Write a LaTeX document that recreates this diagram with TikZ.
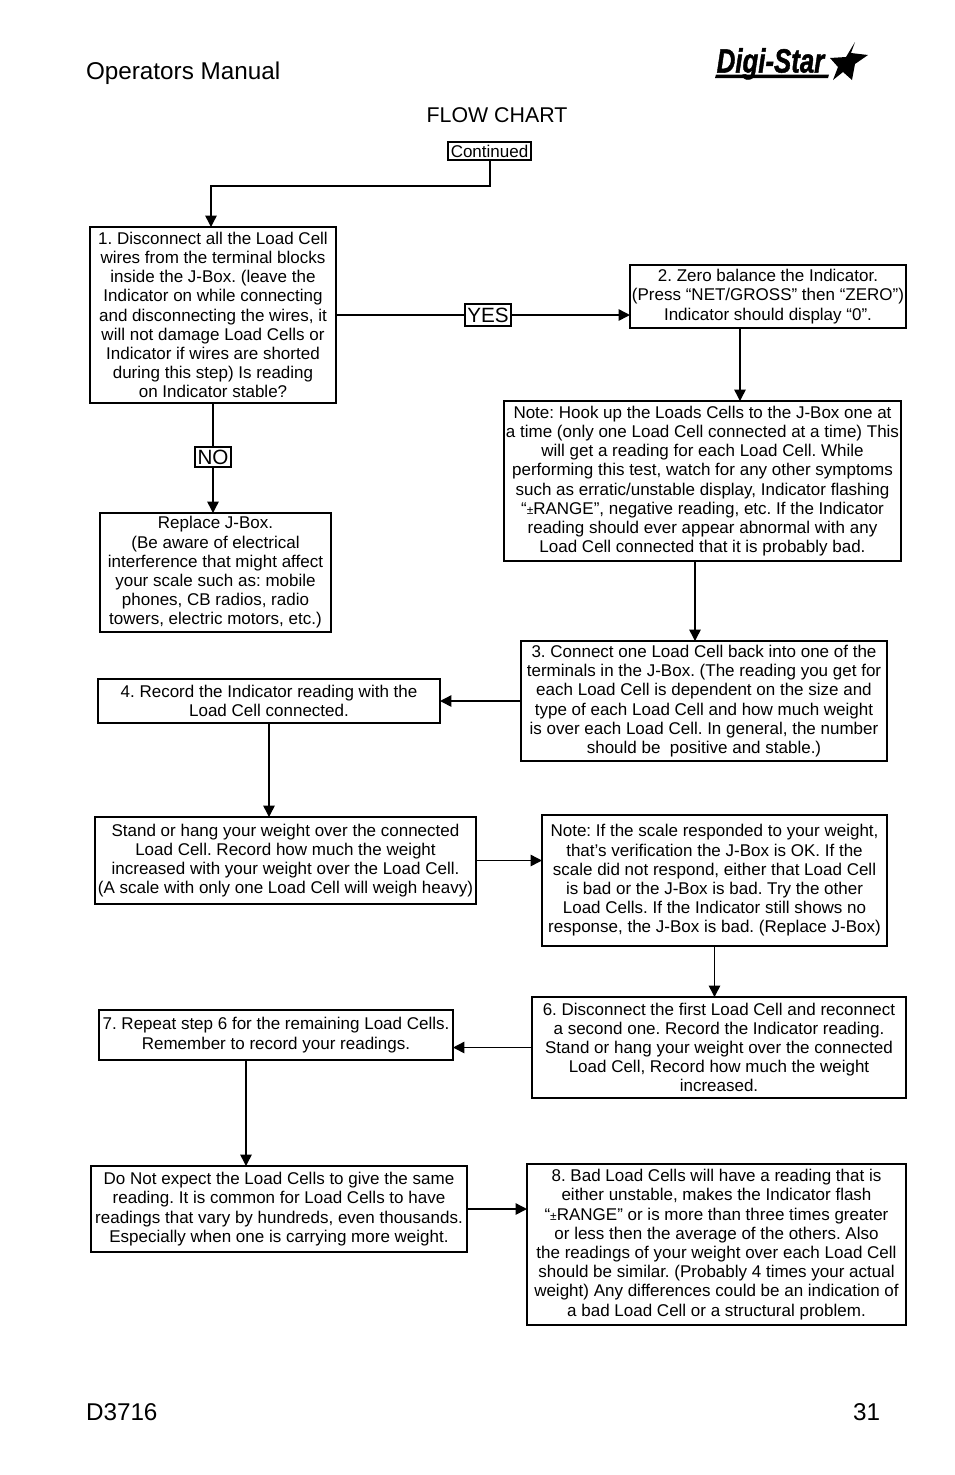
\documentclass[tikz,border=0pt]{standalone}
\usepackage{fontspec}
\setmainfont{Liberation Sans}
\newfontfamily\logofont[BoldItalicFeatures={FakeBold=1.5}]{Liberation Sans}
\frenchspacing
\usetikzlibrary{arrows.meta}

\tikzset{every picture/.style={line width=1.1pt}}
\tikzset{flowbox/.style={draw,rectangle,inner sep=0pt,outer sep=0pt,align=center,font=\fontsize{12.75}{14.4}\selectfont}}
\tikzset{tagbox/.style={draw,fill=white,rectangle,inner sep=0pt,outer sep=0pt,font=\fontsize{15.5}{18}\selectfont}}
\tikzset{flowarrow/.style={-{Triangle[length=8.5pt,width=8.5pt]}}}
\tikzset{pagetext/.style={inner sep=0pt,outer sep=0pt,anchor=base west,font=\fontsize{18.2}{20}\selectfont}}

\begin{document}
\begin{tikzpicture}[x=0.75pt,y=0.75pt,yscale=-1,xscale=1]
\useasboundingbox (0,0) rectangle (954,1475);

% Text Node
\node [pagetext] (manual) at (86,79) {Operators Manual};
% Text Node
\node [pagetext] (code) at (86,1420) {D3716};
% Text Node
\node [pagetext,anchor=base east] (page) at (880,1420) {31};
% Text Node
\node [pagetext,anchor=base,font=\fontsize{16}{18}\selectfont] (title) at (497,122) {FLOW CHART};

% Logo
\node [inner sep=0pt,anchor=base west,font=\fontsize{22.5}{26}\selectfont\logofont\bfseries\itshape] (logo) at (716,72.5) {\scalebox{0.86}[1.12]{Digi-Star}};
\fill (716,74.5) -- (829,74.5) -- (828,78) -- (715,78) -- cycle;
%Shape: Star
\fill (855,42) -- (851,53) -- (868,55) -- (855,64) -- (852,80) -- (843,72) -- (833,80) -- (838,67) -- (830,58) -- (846,57) -- cycle;

% Boxes
\node [flowbox,minimum width=62.25pt,minimum height=13.5pt] (continued) at (489.5,151) {Continued};
\node [flowbox,minimum width=184.5pt,minimum height=132pt] (box1) at (213,315) {1. Disconnect all the Load Cell\\wires from the terminal blocks\\inside the J-Box. (leave the\\Indicator on while connecting\\and disconnecting the wires, it\\will not damage Load Cells or\\Indicator if wires are shorted\\during this step) Is reading\\on Indicator stable?};
\node [flowbox,minimum width=207pt,minimum height=47.25pt] (box2) at (768,296.5) {2. Zero balance the Indicator.\\(Press “NET/GROSS” then “ZERO”)\\Indicator should display “0”.};
\node [flowbox,minimum width=297.75pt,minimum height=120pt] (note1) at (702.5,481) {Note: Hook up the Loads Cells to the J-Box one at\\a time (only one Load Cell connected at a time) This\\will get a reading for each Load Cell. While\\performing this test, watch for any other symptoms\\such as erratic/unstable display, Indicator flashing\\“{\small ±}RANGE”, negative reading, etc. If the Indicator\\reading should ever appear abnormal with any\\Load Cell connected that it is probably bad.};
\node [flowbox,minimum width=173.25pt,minimum height=89.25pt] (replace) at (215.5,572.5) {Replace J-Box.\\(Be aware of electrical\\interference that might affect\\your scale such as: mobile\\phones, CB radios, radio\\towers, electric motors, etc.)};
\node [flowbox,minimum width=274.5pt,minimum height=90pt] (box3) at (704,701) {3. Connect one Load Cell back into one of the\\terminals in the J-Box. (The reading you get for\\each Load Cell is dependent on the size and\\type of each Load Cell and how much weight\\is over each Load Cell. In general, the number\\should be\ \ positive and stable.)};
\node [flowbox,minimum width=256.5pt,minimum height=33pt] (box4) at (269,701) {4. Record the Indicator reading with the\\Load Cell connected.};
\node [flowbox,minimum width=285.75pt,minimum height=65.25pt] (box5) at (285.5,860.5) {Stand or hang your weight over the connected\\Load Cell. Record how much the weight\\increased with your weight over the Load Cell.\\(A scale with only one Load Cell will weigh heavy)};
\node [flowbox,minimum width=258.75pt,minimum height=98.25pt] (note2) at (714.5,880.5) {Note: If the scale responded to your weight,\\that’s verification the J-Box is OK. If the\\scale did not respond, either that Load Cell\\is bad or the J-Box is bad. Try the other\\Load Cells. If the Indicator still shows no\\response, the J-Box is bad. (Replace J-Box)};
\node [flowbox,minimum width=280.5pt,minimum height=75.75pt] (box6) at (719,1047.5) {6. Disconnect the first Load Cell and reconnect\\a second one. Record the Indicator reading.\\Stand or hang your weight over the connected\\Load Cell, Record how much the weight\\increased.};
\node [flowbox,minimum width=265.5pt,minimum height=37.5pt] (box7) at (276,1035) {7. Repeat step 6 for the remaining Load Cells.\\Remember to record your readings.};
\node [flowbox,minimum width=282pt,minimum height=64.5pt] (box9) at (279,1209) {Do Not expect the Load Cells to give the same\\reading. It is common for Load Cells to have\\readings that vary by hundreds, even thousands.\\Especially when one is carrying more weight.};
\node [flowbox,minimum width=284.25pt,minimum height=120.75pt] (box8) at (716.5,1244.5) {8. Bad Load Cells will have a reading that is\\either unstable, makes the Indicator flash\\“{\small ±}RANGE” or is more than three times greater\\or less then the average of the others. Also\\the readings of your weight over each Load Cell\\should be similar. (Probably 4 times your actual\\weight) Any differences could be an indication of\\a bad Load Cell or a structural problem.};
\node [tagbox,minimum width=34.5pt,minimum height=16.5pt] (yes) at (488,315) {YES};
\node [tagbox,minimum width=27pt,minimum height=15pt] (no) at (213,457) {NO};

% Free ends of the connectors
\coordinate (turn) at (490,186);
\coordinate (land) at (211,186);
\coordinate (out2) at (740,328);
\coordinate (out3) at (695,561);
\coordinate (out7) at (246,1060);

% Connectors
\draw [flowarrow] (continued.south -| turn) -- (turn) -- (land) -- (land |- box1.north);
\draw (box1.east |- yes) -- (yes.west);
\draw [flowarrow] (yes.east) -- (yes.east -| box2.west);
\draw (box1.south -| no) -- (no.north);
\draw [flowarrow] (no.south) -- (no.south |- replace.north);
\draw [flowarrow] (out2) -- (out2 |- note1.north);
\draw [flowarrow] (out3) -- (out3 |- box3.north);
\draw [flowarrow] (box3.west) -- (box3.west -| box4.east);
\draw [flowarrow] (box4.south) -- (box4.south |- box5.north);
\draw [flowarrow] (box5.east) -- (box5.east -| note2.west);
\draw [flowarrow] (note2.south) -- (note2.south |- box6.north);
\draw [flowarrow] (box6.west) -- (box6.west -| box7.east);
\draw [flowarrow] (out7) -- (out7 |- box9.north);
\draw [flowarrow] (box9.east) -- (box9.east -| box8.west);

\end{tikzpicture}
\end{document}
